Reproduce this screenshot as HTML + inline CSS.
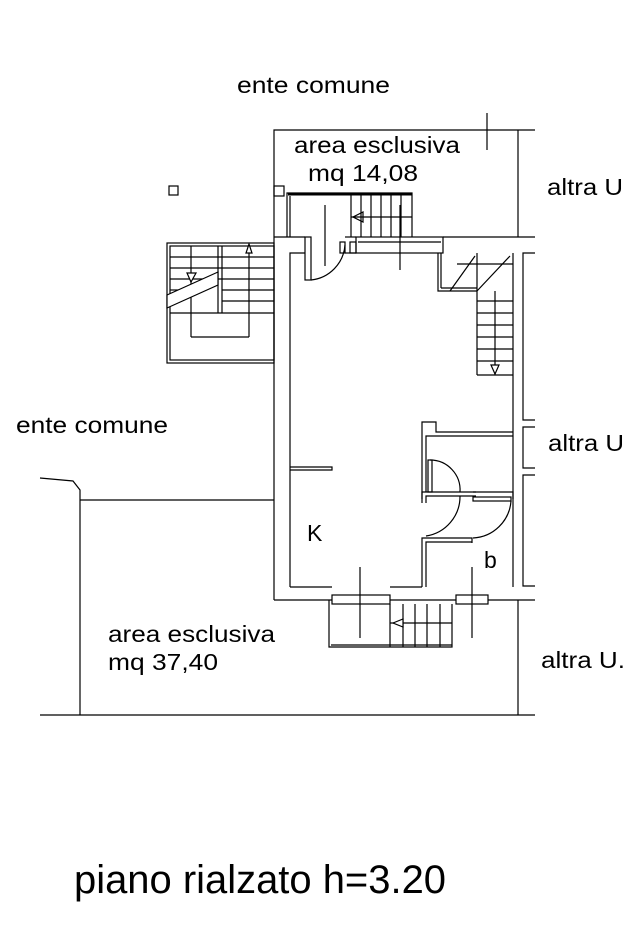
<!DOCTYPE html>
<html><head><meta charset="utf-8"><style>
html,body{margin:0;padding:0;background:#fff;}
svg{display:block;}
text{font-family:"Liberation Sans",Arial,sans-serif;fill:#000;}
</style></head><body>
<svg width="627" height="940" viewBox="0 0 627 940" xmlns="http://www.w3.org/2000/svg">
<g stroke="#000" stroke-width="1.2" fill="none">
<polyline points="274,237 274,130 535,130"/>
<line x1="518" y1="130" x2="518" y2="237"/>
<line x1="487" y1="113" x2="487" y2="150"/>
<rect x="169" y="186" width="9" height="9"/>
<rect x="274" y="186" width="10" height="10"/>
<polyline points="287,237 287,193 412,193 412,237"/>
<line x1="290" y1="196" x2="290" y2="237"/>
<line x1="288" y1="194" x2="412" y2="194" stroke-width="3"/>
<line x1="351" y1="194" x2="351" y2="237"/>
<line x1="361" y1="194" x2="361" y2="237"/>
<line x1="371" y1="194" x2="371" y2="237"/>
<line x1="381" y1="194" x2="381" y2="237"/>
<line x1="391" y1="194" x2="391" y2="237"/>
<line x1="401" y1="194" x2="401" y2="237"/>
<line x1="351" y1="217" x2="412" y2="217"/>
<polygon points="353,217 363,212 363,222"/>
<line x1="325" y1="205" x2="325" y2="266"/>
<line x1="400" y1="205" x2="400" y2="270"/>
<polyline points="274,237 305,237"/>
<polyline points="345,237 356,237"/>
<line x1="443" y1="237" x2="535" y2="237"/>
<line x1="274" y1="237" x2="274" y2="600"/>
<polyline points="290,587 290,253 305,253"/>
<line x1="345" y1="253" x2="356" y2="253"/>
<rect x="356" y="237" width="87" height="16"/>
<line x1="358" y1="242" x2="441" y2="242"/>
<line x1="274" y1="600" x2="332" y2="600"/>
<line x1="390" y1="600" x2="456" y2="600"/>
<line x1="488" y1="600" x2="535" y2="600"/>
<line x1="290" y1="587" x2="332" y2="587"/>
<line x1="390" y1="587" x2="422" y2="587"/>
<rect x="305" y="237" width="6" height="43"/>
<path d="M311,280 A38,38 0 0 0 345,245"/>
<rect x="340" y="242" width="5" height="11"/>
<rect x="350" y="242" width="6" height="11"/>
<rect x="167" y="243" width="107" height="120"/>
<rect x="170" y="246" width="104" height="114"/>
<line x1="191" y1="246" x2="191" y2="337"/>
<line x1="218" y1="246" x2="218" y2="313"/>
<line x1="222" y1="246" x2="222" y2="313"/>
<line x1="249" y1="252" x2="249" y2="337"/>
<line x1="191" y1="337" x2="249" y2="337"/>
<line x1="170" y1="313" x2="274" y2="313"/>
<line x1="170" y1="257" x2="274" y2="257"/>
<line x1="170" y1="268" x2="274" y2="268"/>
<line x1="170" y1="279" x2="274" y2="279"/>
<line x1="222" y1="290" x2="274" y2="290"/>
<line x1="222" y1="301" x2="274" y2="301"/>
<line x1="170" y1="290" x2="185" y2="290"/>
<polygon points="167,295 218,272 218,285 167,308" fill="#fff"/>
<polygon points="187,273 196,273 191,282" fill="#fff"/>
<polygon points="246,253 252,253 249,244" fill="#fff"/>
<polyline points="438,253 438,291 477,291 477,375"/>
<line x1="441" y1="253" x2="441" y2="288"/>
<line x1="441" y1="288" x2="477" y2="288"/>
<line x1="513" y1="253" x2="513" y2="587"/>
<line x1="477" y1="253" x2="477" y2="291"/>
<line x1="457" y1="264" x2="513" y2="264"/>
<line x1="450" y1="291" x2="475" y2="256"/>
<line x1="477" y1="291" x2="510" y2="256"/>
<line x1="477" y1="301" x2="513" y2="301"/>
<line x1="477" y1="313" x2="513" y2="313"/>
<line x1="477" y1="325" x2="513" y2="325"/>
<line x1="477" y1="337" x2="513" y2="337"/>
<line x1="477" y1="349" x2="513" y2="349"/>
<line x1="477" y1="361" x2="513" y2="361"/>
<line x1="495" y1="291" x2="495" y2="375"/>
<polygon points="491,365 499,365 495,374" fill="#fff"/>
<line x1="477" y1="375" x2="513" y2="375"/>
<polyline points="535,253 523,253 523,420 535,420"/>
<polyline points="535,427 523,427 523,468 535,468"/>
<polyline points="535,475 523,475 523,586 535,586"/>
<polyline points="290,467 332,467 332,470 290,470"/>
<polyline points="422,587 422,538 472,538 472,543"/>
<polyline points="426,587 426,542 472,542"/>
<polyline points="422,503 422,492 476,492"/>
<polyline points="426,503 426,496 476,496"/>
<polyline points="422,499 422,422 436,422 436,432 513,432"/>
<polyline points="426,492 426,436 513,436"/>
<rect x="428" y="460" width="4" height="32"/>
<path d="M430,460 A30,30 0 0 1 460,492"/>
<path d="M460,496 A40,40 0 0 1 426,536"/>
<polyline points="473,492 513,492 513,499"/>
<rect x="473" y="497" width="38" height="4"/>
<path d="M511,501 A40,40 0 0 1 473,538"/>
<rect x="332" y="595" width="58" height="9"/>
<rect x="456" y="595" width="32" height="9"/>
<polyline points="329,600 329,647 452,647 452,604"/>
<line x1="331" y1="645" x2="452" y2="645"/>
<line x1="390" y1="604" x2="390" y2="647"/>
<line x1="403" y1="604" x2="403" y2="647"/>
<line x1="415" y1="604" x2="415" y2="647"/>
<line x1="427" y1="604" x2="427" y2="647"/>
<line x1="440" y1="604" x2="440" y2="647"/>
<line x1="390" y1="623" x2="452" y2="623"/>
<polygon points="393,623 403,619 403,627" fill="#fff"/>
<line x1="360" y1="567" x2="360" y2="638"/>
<line x1="472" y1="567" x2="472" y2="638"/>
<line x1="518" y1="600" x2="518" y2="715"/>
<line x1="40" y1="715" x2="535" y2="715"/>
<line x1="80" y1="500" x2="80" y2="715"/>
<line x1="80" y1="500" x2="274" y2="500"/>
<polyline points="40,478 73,481 80,490 80,500"/>
</g>
<g font-size="23">
<text x="237" y="93" textLength="153" lengthAdjust="spacingAndGlyphs">ente comune</text>
<text x="294" y="153" textLength="166" lengthAdjust="spacingAndGlyphs">area esclusiva</text>
<text x="308" y="181" textLength="110" lengthAdjust="spacingAndGlyphs">mq 14,08</text>
<text x="547" y="195" textLength="76" lengthAdjust="spacingAndGlyphs">altra U</text>
<text x="16" y="433" textLength="152" lengthAdjust="spacingAndGlyphs">ente comune</text>
<text x="548" y="451" textLength="76" lengthAdjust="spacingAndGlyphs">altra U</text>
<text x="307" y="541">K</text>
<text x="484" y="568">b</text>
<text x="108" y="642" textLength="167" lengthAdjust="spacingAndGlyphs">area esclusiva</text>
<text x="108" y="670" textLength="110" lengthAdjust="spacingAndGlyphs">mq 37,40</text>
<text x="541" y="668" textLength="84" lengthAdjust="spacingAndGlyphs">altra U.</text>
</g>
<text x="74" y="893" font-size="40" textLength="372" lengthAdjust="spacingAndGlyphs">piano rialzato h=3.20</text>
</svg>
</body></html>
